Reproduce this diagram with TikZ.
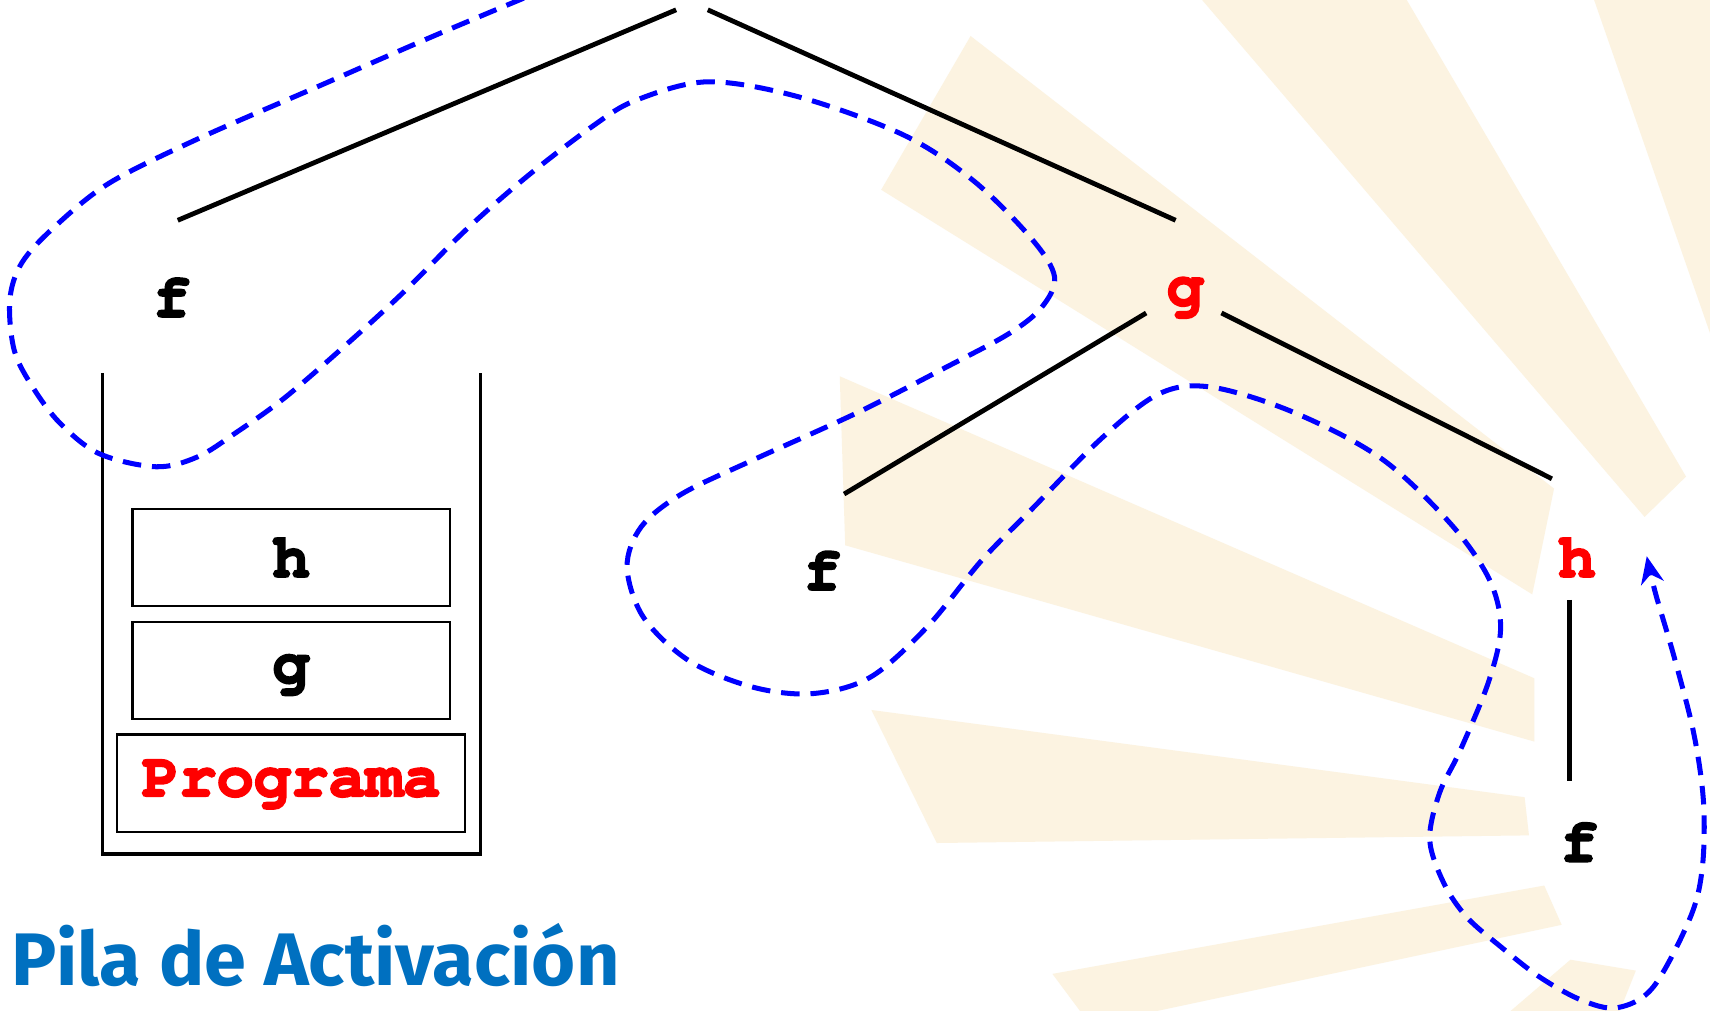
\documentclass[tikz,border=0pt]{standalone}
\usepackage[T1]{fontenc}
\usepackage{fontspec}
\usepackage{graphicx}
\newfontfamily\titlefont{Fira Sans}
\newcommand\courbf{\fontencoding{T1}\fontfamily{pcr}\fontseries{b}\fontshape{n}\fontsize{57}{60}\selectfont}
\newcommand\heavytxt[1]{\special{pdf:literal direct 2 Tr 1.8 w}#1\special{pdf:literal direct 0 Tr}}
\usetikzlibrary{arrows.meta}
\definecolor{ray}{RGB}{252,243,225}
\definecolor{titleblue}{RGB}{0,112,192}
\definecolor{dblue}{RGB}{0,0,255}
\definecolor{lred}{RGB}{255,0,0}
\begin{document}
\begin{tikzpicture}[x=1pt,y=-1pt,
  lbl/.style={font=\courbf, inner sep=0pt},
  edge/.style={line width=4.4pt},
  stackbox/.style={draw, line width=1.9pt, minimum height=89pt, inner sep=0pt},
  trace/.style={draw=dblue, line width=4.6pt, dash pattern=on 17pt off 10pt,
     -{Stealth[length=25pt,width=21pt,inset=8pt]}},
  rayfill/.style={fill=ray, draw=none}]
\useasboundingbox (0,0) rectangle (1568,927);
\clip (0,0) rectangle (1568,927);
\fill[white] (0,0) rectangle (1568,927);
% background rays
\fill[rayfill] (890,33) -- (1425,448) -- (1405,545) -- (808,174) -- cycle;
\fill[rayfill] (1098,-5) -- (1287,-5) -- (1546,437) -- (1508,474) -- cycle;
\fill[rayfill] (1460,-5) -- (1580,-5) -- (1580,340) -- cycle;
\fill[rayfill] (770,345) -- (1407,622) -- (1407,680) -- (775,500) -- cycle;
\fill[rayfill] (799,651) -- (1398,731) -- (1402,766) -- (859,773) -- cycle;
\fill[rayfill] (965,893) -- (1416,812) -- (1432,848) -- (1000,940) -- cycle;
\fill[rayfill] (1370,940) -- (1440,880) -- (1500,890) -- (1480,940) -- cycle;
% tree labels
\node[lbl] (f1) at (157.5,272.5) {\heavytxt{f}};
\node[lbl, text=lred] (g1) at (1087,271) {\heavytxt{g}};
\node[lbl] (f2) at (754,523) {\heavytxt{f}};
\node[lbl, text=lred] (h1) at (1446,511) {\heavytxt{h}};
\node[lbl] (f3) at (1448,772) {\heavytxt{f}};
% connector end points
\coordinate (rootL) at (620,9);
\coordinate (rootR) at (649,9);
\coordinate (f1t) at (163,202);
\coordinate (g1t) at (1078,202);
\coordinate (g1l) at (1051,287);
\coordinate (f2t) at (774,453);
\coordinate (g1r) at (1120,287);
\coordinate (h1t) at (1423,439);
\coordinate (h1b) at (1439.5,550);
\coordinate (f3t) at (1439.5,716);
\draw[edge] (rootL) -- (f1t);
\draw[edge] (rootR) -- (g1t);
\draw[edge] (g1l) -- (f2t);
\draw[edge] (g1r) -- (h1t);
\draw[edge] (h1b) -- (f3t);
% stack
\coordinate (swl) at (94,342);
\coordinate (swbl) at (94,783);
\coordinate (swbr) at (440.5,783);
\coordinate (swr) at (440.5,342);
\draw[line width=3.4pt] (swl) -- (swbl) -- (swbr) -- (swr);
\draw[line width=4.4pt] (swbl) -- (swbr);
\node[stackbox, minimum width=291pt] (sh) at (267,511) {};
\node[lbl] at (sh.center) {\heavytxt{h}};
\node[stackbox, minimum width=291pt] (sg) at (267,615) {};
\node[lbl] at ([yshift=-2pt]sg.center) {\heavytxt{g}};
\node[stackbox, minimum width=319pt] (sp) at (267,718) {};
\node[lbl, text=lred] at (sp.center) {\heavytxt{Programa}};
% title
\node[anchor=base west, inner sep=0pt, text=titleblue] (title) at (10,904)
  {\resizebox{558pt}{57pt}{\titlefont\bfseries\fontsize{71}{74}\selectfont Pila de Activación}};
% dashed trace
\draw[trace] plot[smooth, tension=0.55] coordinates {
 (505,-12) (400,32) (290,80) (180,128) (100,168) (50,208) (20,241) (9,275)
 (13,321) (30,355) (55,388) (91,416) (143,428) (181,419) (216,397) (262,364) (322,312)
 (372,266) (427,211) (483,162) (543,116) (583,92) (649,75) (733,89) (829,124) (893,166)
 (946,219) (967,254) (955,282) (925,306) (867,337) (787,378) (690,422) (625,453) (588,483)
 (575,520) (590,566) (632,606) (690,630) (745,636) (798,621) (850,575) (900,514) (946,467)
 (1010,402) (1063,361) (1111,355) (1186,378) (1266,420) (1329,479) (1365,530) (1376,575)
 (1365,625) (1339,688) (1320,727) (1311,770) (1324,810) (1345,841) (1376,868) (1412,896)
 (1450,917) (1483,924) (1516,905) (1550,841) (1561,795) (1562,735) (1553,672) (1535,602)
 (1518,544) (1510,510)};
\end{tikzpicture}
\end{document}
